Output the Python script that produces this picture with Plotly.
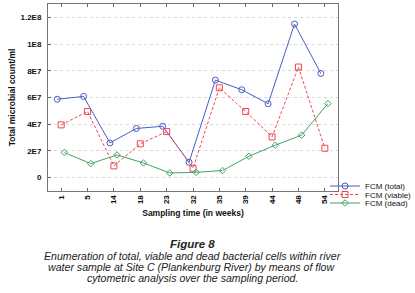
import plotly.graph_objects as go

weeks = ["1", "5", "14", "18", "23", "32", "35", "39", "44", "48", "54"]
fcm_total = [5.87e7, 6.08e7, 2.6e7, 3.68e7, 3.85e7, 1.15e7, 7.3e7, 6.58e7, 5.53e7, 1.15e8, 7.8e7]
fcm_viable = [3.95e7, 4.95e7, 0.88e7, 2.53e7, 3.45e7, 0.7e7, 6.73e7, 4.95e7, 3.05e7, 8.28e7, 2.2e7]
fcm_dead = [1.88e7, 1.05e7, 1.7e7, 1.1e7, 0.35e7, 0.4e7, 0.53e7, 1.6e7, 2.43e7, 3.18e7, 5.55e7]
y_tickvals = [0, 2e7, 4e7, 6e7, 8e7, 1e8, 1.2e8]
y_ticktext = ["0", "2E7", "4E7", "6E7", "8E7", "1E8", "1.2E8"]

# plot frame in pixels
L, R, T, B = 48, 338, 4, 191
PW, PH = R - L, B - T

idx = list(range(len(weeks)))
series = [
    ("FCM (total)", fcm_total, "#4a5cc4", "solid", "circle-open", 6, -0.15, "legend", 186),
    ("FCM (viable)", fcm_viable, "#f0474f", "3px,2px", "square-open", 6, 0.0, "legend2", 194.5),
    ("FCM (dead)", fcm_dead, "#45a364", "solid", "diamond-open", 5, 0.12, "legend3", 203),
]

fig = go.Figure()
legends = {}
for name, vals, col, dash, sym, size, off, leg, ly in series:
    fig.add_trace(go.Scatter(
        x=[i + off for i in idx], y=vals, name=name, mode="lines+markers",
        line=dict(color=col, width=1, dash=dash),
        marker=dict(symbol=sym, size=size, color=col, line=dict(width=1, color=col)),
        legend=leg,
    ))
    legends[leg] = dict(x=(325 - L) / PW, y=(B - ly) / PH, xanchor="left", yanchor="middle",
                        font=dict(family="Liberation Sans, Arial", size=8, color="#111"),
                        bgcolor="rgba(0,0,0,0)", borderwidth=0)

tickfont = dict(family="Liberation Sans, Arial", size=8, color="#111", weight="bold")
fig.update_layout(
    template="none",
    width=415, height=293,
    margin=dict(l=L, r=415 - R, t=T, b=293 - B, autoexpand=False),
    paper_bgcolor="white", plot_bgcolor="white",
    font=dict(family="Liberation Sans, Arial", size=8, color="#111"),
    showlegend=True,
    xaxis=dict(range=[-0.5, 10.5], tickvals=idx, ticktext=weeks, tickangle=-90,
               tickfont=tickfont, automargin=False,
               ticks="inside", ticklen=3, tickcolor="#666",
               showline=True, linecolor="#777", linewidth=1, mirror="ticks",
               showgrid=False, zeroline=False,
               title=dict(text="<b>Sampling time (in weeks)</b>", font=dict(size=8.5), standoff=6)),
    yaxis=dict(range=[-1e7, 1.3e8], tickvals=y_tickvals, ticktext=y_ticktext,
               tickfont=tickfont, automargin=False,
               ticks="inside", ticklen=3, tickcolor="#666",
               showline=True, linecolor="#777", linewidth=1, mirror=True,
               showgrid=True, gridcolor="#d8d8d8", griddash="dot", gridwidth=1,
               zeroline=False, ticklabelstandoff=4,
               title=dict(text="<b>Total microbial count/ml</b>", font=dict(size=8.5), standoff=3)),
    yaxis2=dict(range=[0, 8], dtick=1, overlaying="y", side="right", showticklabels=False,
                ticks="inside", ticklen=3, tickcolor="#666", showgrid=False, zeroline=False,
                showline=False, automargin=False),
    **legends,
)

captions = [
    ("<b><i>Figure 8</i></b>", 244.3, 11.5),
    ("<i>Enumeration of total, viable and dead bacterial cells within river</i>", 255.5, 10.6),
    ("<i>water sample at Site C (Plankenburg River) by means of flow</i>", 266.7, 10.6),
    ("<i>cytometric analysis over the sampling period.</i>", 277.9, 10.6),
]
for text, ypx, fs in captions:
    fig.add_annotation(text=text, xref="paper", yref="paper",
                       x=(192 - L) / PW, y=(B - ypx) / PH,
                       xanchor="center", yanchor="middle", showarrow=False,
                       font=dict(family="Liberation Sans, Arial", size=fs, color="#222"))

fig.write_html("out.html", config={"displayModeBar": False},
               post_script="document.body.style.margin='0';document.body.style.overflow='hidden';")
